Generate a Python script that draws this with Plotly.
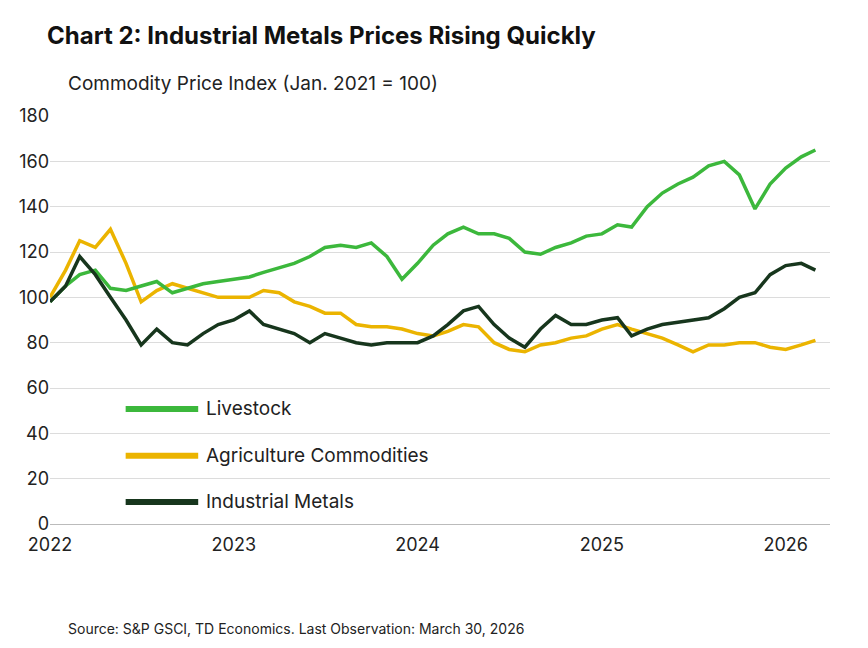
import plotly.graph_objects as go
import pandas as pd

dates = pd.date_range("2022-01-01", "2026-03-01", freq="MS").strftime("%Y-%m-%d").tolist()

livestock = [98,105,110,112,104,103,105,107,102,104,106,107,
             108,109,111,113,115,118,122,123,122,124,118,108,
             115,123,128,131,128,128,126,120,119,122,124,127,
             128,132,131,140,146,150,153,158,160,154,139,150,
             157,162,165]
agri = [100,112,125,122,130,115,98,103,106,104,102,100,
        100,100,103,102,98,96,93,93,88,87,87,86,
        84,83,85,88,87,80,77,76,79,80,82,83,
        86,88,86,84,82,79,76,79,79,80,80,78,
        77,79,81]
metals = [98,105,118,110,100,90,79,86,80,79,84,88,
          90,94,88,86,84,80,84,82,80,79,80,80,
          80,83,88,94,96,88,82,78,86,92,88,88,
          90,91,83,86,88,89,90,91,95,100,102,110,
          114,115,112]

names = ["Livestock", "Agriculture Commodities", "Industrial Metals"]
colors = ["#3cb83c", "#ebb400", "#17361d"]

fig = go.Figure()
for s, c, n in [(agri, colors[1], names[1]), (livestock, colors[0], names[0]), (metals, colors[2], names[2])]:
    fig.add_trace(go.Scatter(x=dates, y=s, mode="lines", name=n,
                             line=dict(color=c, width=3.5), showlegend=False))

ys = [0.282, 0.167, 0.054]
for n, c, y in zip(names, colors, ys):
    fig.add_shape(type="line", xref="paper", yref="paper", x0=0.097, x1=0.19, y0=y, y1=y,
                  line=dict(color=c, width=6))
    fig.add_annotation(xref="paper", yref="paper", x=0.197, y=y, text=n, showarrow=False,
                       xanchor="left", yanchor="middle", font=dict(size=19, color="#222"))

fig.add_annotation(xref="paper", yref="paper", x=0.02, y=1.08, text="Commodity Price Index (Jan. 2021 = 100)",
                   showarrow=False, xanchor="left", yanchor="middle", font=dict(size=19, color="#222"))
fig.add_annotation(xref="paper", yref="paper", x=0.02, y=-0.255, text="Source: S&P GSCI, TD Economics. Last Observation: March 30, 2026",
                   showarrow=False, xanchor="left", yanchor="middle", font=dict(size=14, color="#222"))

fig.update_layout(
    width=868, height=648,
    margin=dict(l=42, r=46, t=108, b=132),
    paper_bgcolor="white", plot_bgcolor="white",
    font=dict(family="Inter, Lato, sans-serif", color="#222"),
    title=dict(text="<b>Chart 2: Industrial Metals Prices Rising Quickly</b>", x=0.045, xanchor="left",
               y=0.958, yanchor="middle", font=dict(size=24, color="#111")),
    xaxis=dict(range=["2022-01-01", "2026-03-30"], tickvals=["2022-01-01","2023-01-01","2024-01-01","2025-01-01","2026-01-01"],
               ticktext=["2022","2023","2024","2025","2026"], showgrid=False, showline=True, linecolor="#bbb",
               ticks="", tickfont=dict(size=18), ticklabelstandoff=4),
    yaxis=dict(range=[0, 180], dtick=20, showgrid=True, gridcolor="#dcdcdc", zeroline=False,
               ticks="", tickfont=dict(size=18), showline=False),
)
fig.write_html("out.html")
